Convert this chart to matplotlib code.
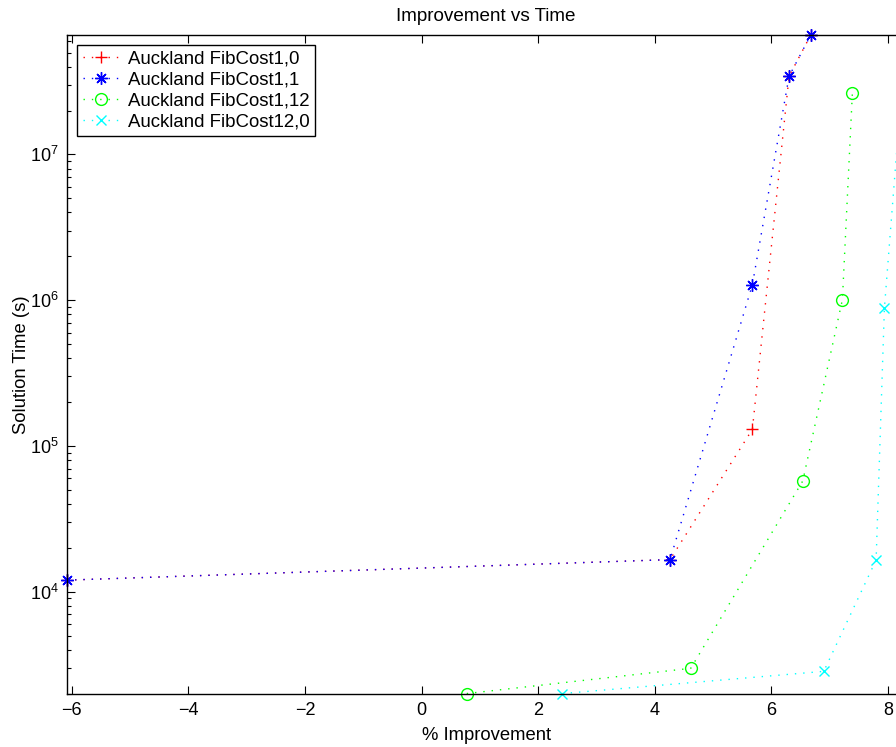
import matplotlib
matplotlib.use("Agg")
import matplotlib.pyplot as plt
from matplotlib.ticker import LogLocator, NullFormatter, FixedLocator

plt.rcParams['font.family'] = ['Liberation Sans', 'DejaVu Sans']
plt.rcParams['mathtext.fontset'] = 'custom'
plt.rcParams['mathtext.rm'] = 'Liberation Sans'
plt.rcParams['mathtext.it'] = 'Liberation Sans:italic'
plt.rcParams['mathtext.bf'] = 'Liberation Sans:bold'
plt.rcParams['lines.scale_dashes'] = False

# ---- data ----
labels = ["Auckland FibCost1,0", "Auckland FibCost1,1",
          "Auckland FibCost1,12", "Auckland FibCost12,0"]
x_fc1_0 = [-6.086, 4.262, 5.674, 6.303, 6.675]
y_fc1_0 = [1.2e4, 1.66e4, 1.30e5, 3.44e7, 6.6e7]
x_fc1_1 = [-6.086, 4.262, 5.674, 6.303, 6.675]
y_fc1_1 = [1.2e4, 1.66e4, 1.28e6, 3.44e7, 6.6e7]
x_fc1_12 = [0.775, 4.617, 6.538, 7.218, 7.389]
y_fc1_12 = [2.0e3, 2.98e3, 5.75e4, 1.01e6, 2.65e7]
x_fc12_0 = [2.415, 6.898, 7.796, 7.938, 8.29]
y_fc12_0 = [2.0e3, 2.84e3, 1.65e4, 8.8e5, 5.5e7]
xticks = [-6, -4, -2, 0, 2, 4, 6, 8]

fig = plt.figure(figsize=(8.96, 7.47), dpi=100)
ax = fig.add_axes([66.7/896, 53/747, 838.8/896, 659/747])

dots = (0, (1.0, 5.0))
series = [
    (x_fc1_0, y_fc1_0, '#ff0000', '+', 9),
    (x_fc1_1, y_fc1_1, '#0000ff', (8, 2, 0), 9),
    (x_fc1_12, y_fc1_12, '#00ff00', 'o', 8.5),
    (x_fc12_0, y_fc12_0, '#00ffff', 'x', 7),
]
for (xs, ys, c, m, ms), lab in zip(series, labels):
    ax.plot(xs, ys, linestyle=dots, color=c, lw=1.0, marker=m, ms=ms,
            mfc='none', mec=c, mew=1.0, label=lab, clip_on=False)

ax.set_yscale('log')
ax.set_xlim(-6.086, 8.30)
ax.set_ylim(1986, 6.6e7)
ax.xaxis.set_major_locator(FixedLocator(xticks))
ax.yaxis.set_major_locator(LogLocator(base=10, numticks=20))
ax.yaxis.set_minor_locator(LogLocator(base=10, subs=range(2, 10), numticks=20))
ax.yaxis.set_minor_formatter(NullFormatter())

ax.tick_params(which='both', direction='in', top=True, right=True,
               labelsize=13, colors='black')
ax.tick_params(which='major', length=6, width=0.8, pad=6)
ax.tick_params(which='minor', length=3, width=0.8)
for s in ax.spines.values():
    s.set_linewidth(1.0)
    s.set_color('black')

ax.set_title("Improvement vs Time", fontsize=13.6, pad=10)
ax.set_xlabel("% Improvement", fontsize=13.3, labelpad=5.5)
ax.set_ylabel("Solution Time (s)", fontsize=13.3, labelpad=0)

leg = ax.legend(loc='upper left', fontsize=13.4, frameon=True, fancybox=False,
                edgecolor='black', framealpha=1, borderaxespad=0.55,
                handlelength=2.0, handletextpad=0.45, labelspacing=0.2,
                borderpad=0.3)
leg.get_frame().set_linewidth(1.0)

fig.savefig("out.png", dpi=100)
